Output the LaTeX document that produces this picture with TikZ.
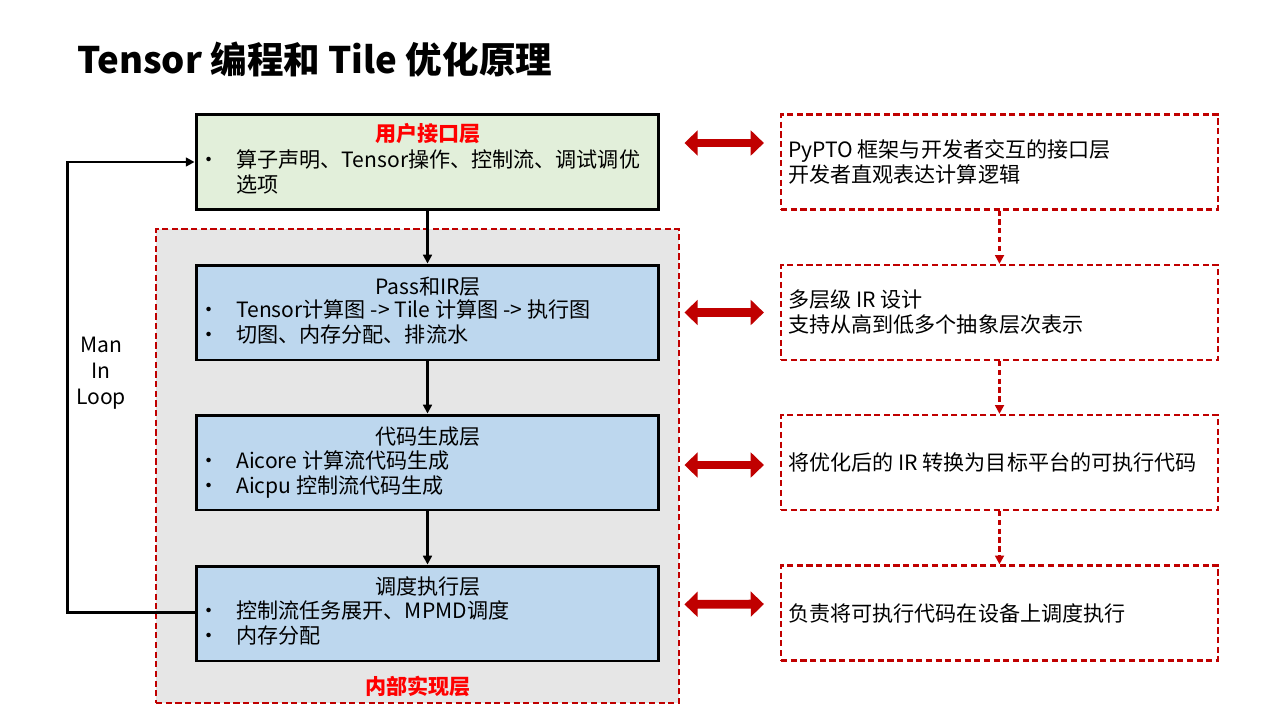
\documentclass[tikz,border=0pt]{standalone}
\usepackage{fontspec}
\setmainfont{Noto Sans CJK SC}
\usetikzlibrary{arrows.meta}
\definecolor{darkred}{HTML}{C00000}
\definecolor{userfill}{HTML}{E2EFDA}
\definecolor{layerfill}{HTML}{BDD7EE}
\definecolor{regionfill}{HTML}{E6E6E6}
\tikzset{
  layer/.style={draw=black, line width=1.7pt, minimum width=9.26cm, minimum height=1.9cm, fill=layerfill},
  note/.style={draw=darkred, line width=1.3pt, dash pattern=on 3.5pt off 2pt, minimum width=8.74cm, minimum height=1.9cm},
  region/.style={draw=darkred, line width=1.3pt, dash pattern=on 3.5pt off 2pt, fill=regionfill, minimum width=10.46cm, minimum height=9.48cm},
  flow/.style={draw=black, line width=1.2pt, -{Triangle[length=5pt,width=5pt]}},
  notelink/.style={draw=darkred, line width=1.3pt, dash pattern=on 3pt off 2pt, -{Triangle[length=5pt,width=5pt]}},
  biarrow/.style={draw=darkred, line width=5pt, {Triangle[length=7.5pt,width=14pt]}-{Triangle[length=7.5pt,width=14pt]}, shorten <=0.48cm, shorten >=0.32cm},
  txt/.style={font=\fontsize{12}{14.2}\selectfont, inner sep=0pt},
}
\begin{document}
\begin{tikzpicture}[x=0.02cm, y=-0.02cm]
  \useasboundingbox (0,0) rectangle (1280,720);
  \node[anchor=west, inner sep=0pt, font=\fontsize{20.8}{24}\selectfont\bfseries] (title) at (77,60) {Tensor 编程和 Tile 优化原理};

  % internal region
  \node[region] (inner) at (417.5,466) {};
  \node[txt, text=red, font=\fontsize{12}{14.2}\selectfont\bfseries] (innerlabel) at (418,686) {内部实现层};

  % layers
  \node[layer, fill=userfill] (user) at (427.5,162) {};
  \node[layer] (pass) at (427.5,312.5) {};
  \node[layer] (code) at (427.5,462.5) {};
  \node[layer] (sched) at (427.5,613.5) {};

  \node[txt, text=red, font=\fontsize{12}{14.2}\selectfont\bfseries] (usertitle) at (428,134) {用户接口层};
  \node[txt, anchor=west] (useritems) at (198,174.5) {\begin{tabular}{@{}p{0.76cm}@{}l@{}}
    • & 算子声明、Tensor操作、控制流、调试调优\\
      & 选项
  \end{tabular}};
  \node[txt] (passtitle) at (428,287) {Pass和IR层};
  \node[txt, anchor=west] (passitems) at (198,325) {\begin{tabular}{@{}p{0.76cm}@{}l@{}}
    • & Tensor计算图 -> Tile 计算图 -> 执行图\\
    • & 切图、内存分配、排流水
  \end{tabular}};
  \node[txt] (codetitle) at (428,437) {代码生成层};
  \node[txt, anchor=west] (codeitems) at (198,475.5) {\begin{tabular}{@{}p{0.76cm}@{}l@{}}
    • & Aicore 计算流代码生成\\
    • & Aicpu 控制流代码生成
  \end{tabular}};
  \node[txt] (schedtitle) at (428,587) {调度执行层};
  \node[txt, anchor=west] (scheditems) at (198,625.5) {\begin{tabular}{@{}p{0.76cm}@{}l@{}}
    • & 控制流任务展开、MPMD调度\\
    • & 内存分配
  \end{tabular}};

  \draw[flow] (user) -- (pass);
  \draw[flow] (pass) -- (code);
  \draw[flow] (code) -- (sched);

  % man in loop
  \draw[flow, line width=1.5pt] ([yshift=0.02cm]sched.west) -- ++(-127,0) |- (user.west);
  \node[txt, align=center, font=\fontsize{12}{14.7}\selectfont] (loop) at (101,373) {Man\\In\\Loop};

  % notes
  \node[note] (n1) at (999.5,162) {};
  \node[note] (n2) at (999.5,312.5) {};
  \node[note] (n3) at (999.5,462.5) {};
  \node[note] (n4) at (999.5,613) {};
  \node[txt, anchor=west, align=left, xshift=0.16cm] at (n1.west) {PyPTO 框架与开发者交互的接口层\\开发者直观表达计算逻辑};
  \node[txt, anchor=west, align=left, xshift=0.16cm] at (n2.west) {多层级 IR 设计\\支持从高到低多个抽象层次表示};
  \node[txt, anchor=west, align=left, xshift=0.16cm] at (n3.west) {将优化后的 IR 转换为目标平台的可执行代码};
  \node[txt, anchor=west, align=left, xshift=0.16cm] at (n4.west) {负责将可执行代码在设备上调度执行};

  \draw[notelink] (n1) -- (n2);
  \draw[notelink] (n2) -- (n3);
  \draw[notelink] (n3) -- (n4);

  \draw[biarrow] ([yshift=0.38cm]user.east) -- ([yshift=0.38cm]n1.west);
  \draw[biarrow] (pass.east) -- (n2.west);
  \draw[biarrow] ([yshift=-0.05cm]code.east) -- ([yshift=-0.05cm]n3.west);
  \draw[biarrow] ([yshift=0.18cm]sched.east) -- ([yshift=0.18cm]n4.west);
\end{tikzpicture}
\end{document}
